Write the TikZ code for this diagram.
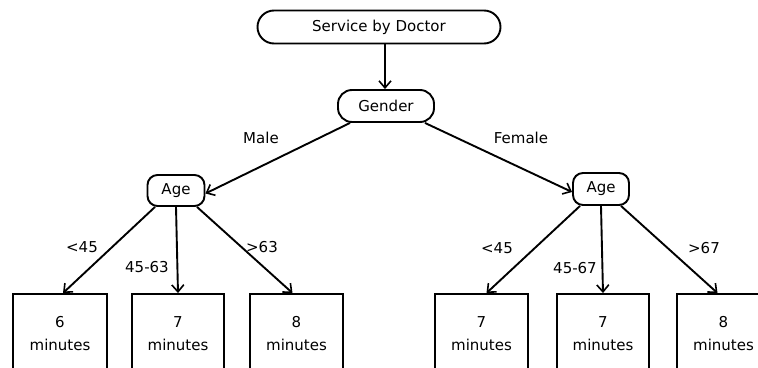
\documentclass[tikz,border=0pt]{standalone}
\usepackage{fontspec}
\setmainfont{DejaVu Sans}
\usetikzlibrary{arrows.meta}
\begin{document}
\begin{tikzpicture}[x=1pt,y=-1pt,
  every node/.style={font=\fontsize{15}{23}\selectfont},
  pill/.style={draw, line width=1.9pt, inner sep=0pt},
  leaf/.style={draw, line width=1.9pt, inner sep=0pt, minimum width=93pt, minimum height=80pt, align=center},
  conn/.style={line width=1.9pt, -{Straight Barb[length=7pt,width=12pt,line width=1.6pt]}},
  lab/.style={inner sep=0pt}]
\clip (0,0) rectangle (758,367);
\fill[white] (0,0) rectangle (758,367);
\node[pill, rounded corners=16.5pt, minimum width=243pt, minimum height=33pt] (sbd) at (379,27) {Service by Doctor};
\node[pill, rounded corners=14pt, minimum width=96pt, minimum height=32pt] (gender) at (386,106) {Gender};
\node[pill, rounded corners=10pt, minimum width=57pt, minimum height=31pt] (ageL) at (176,190.5) {Age};
\node[pill, rounded corners=10pt, minimum width=56pt, minimum height=32pt] (ageR) at (601,189) {Age};
\node[leaf, minimum width=94pt] (b1) at (60,334) {6\\minutes};
\node[leaf, minimum width=92pt] (b2) at (178,334) {7\\minutes};
\node[leaf] (b3) at (296.5,334) {8\\minutes};
\node[leaf] (b4) at (481.5,334) {7\\minutes};
\node[leaf, minimum width=92pt] (b5) at (603,334) {7\\minutes};
\node[leaf] (b6) at (723.5,334) {8\\minutes};
\draw[conn] ([xshift=6pt]sbd.south) -- ([xshift=-1pt]gender.north);
\draw[conn] ([xshift=-36pt]gender.south) -- ([yshift=-3pt]ageL.east);
\draw[conn] ([xshift=39pt]gender.south) -- ([yshift=-3pt]ageR.west);
\draw[conn] ([xshift=-21pt]ageL.south) -- ([xshift=3pt]b1.north);
\draw[conn] (ageL.south) -- (b2.north);
\draw[conn] ([xshift=21pt]ageL.south) -- ([xshift=-4pt]b3.north);
\draw[conn] ([xshift=-21pt]ageR.south) -- ([xshift=5pt]b4.north);
\draw[conn] (ageR.south) -- (b5.north);
\draw[conn] ([xshift=20pt]ageR.south) -- ([xshift=-6pt]b6.north);
\node[lab] (male) at (261,138) {Male};
\node[lab] (female) at (521,138) {Female};
\node[lab] (l1) at (82,247) {<45};
\node[lab] (l2) at (147,267) {45-63};
\node[lab] (l3) at (262,247) {>63};
\node[lab] (l4) at (497,248) {<45};
\node[lab] (l5) at (575,268) {45-67};
\node[lab] (l6) at (704,248) {>67};
\end{tikzpicture}
\end{document}
